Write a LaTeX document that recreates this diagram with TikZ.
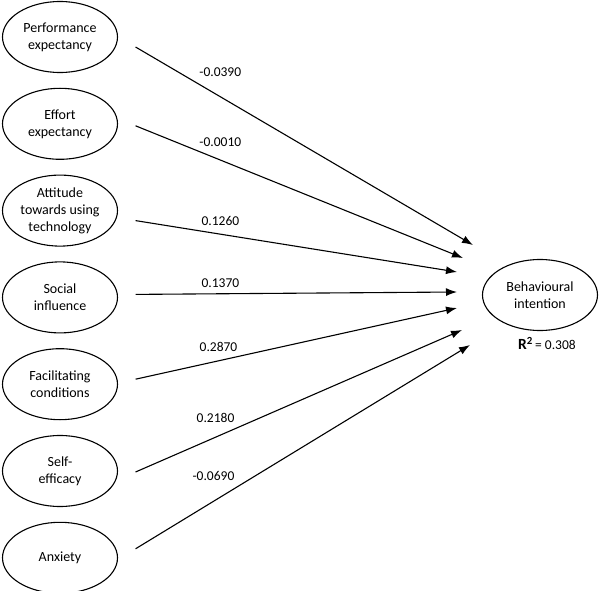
\documentclass[tikz,border=0pt]{standalone}
\usepackage{fontspec}
\setmainfont{Carlito}
\usetikzlibrary{shapes.geometric, arrows.meta, positioning}

\begin{document}
\begin{tikzpicture}[x=1pt, y=-1pt, node distance=14.7pt,
		construct/.style={ellipse, draw, line width=1.1pt, minimum width=115pt, minimum height=71pt, inner sep=0pt, align=center, font=\fontsize{14}{17}\selectfont},
		effect/.style={-{Latex[length=11pt,width=8pt]}, line width=1.1pt},
		coef/.style={font=\fontsize{13.5}{15}\selectfont}]
		\useasboundingbox (0,0) rectangle (600,591);
		\node[construct] (pe) at (60,37) {Performance\\expectancy};
		\node[construct, below=of pe] (ee) {Effort\\expectancy};
		\node[construct, below=of ee] (at) {Attitude\\towards using\\technology};
		\node[construct, below=of at] (si) {Social\\influence};
		\node[construct, below=of si] (fc) {Facilitating\\conditions};
		\node[construct, below=of fc] (se) {Self-\\efficacy};
		\node[construct, below=of se] (ax) {Anxiety};
		\node[construct] (bi) at (540,295) {Behavioural\\intention};
		\node[coef, below=3pt of bi, xshift=7pt] (r2) {\textbf{\fontsize{15.5}{15}\selectfont R\textsuperscript{2}}\,= 0.308};
		% free ends of the paths
		\foreach \n/\i/\dy in {pe/1/10, ee/2/2, at/3/10, si/4/-3, fc/5/-5, se/6/1, ax/7/-9}
			\coordinate (s\i) at ([shift={(17.5,\dy)}]\n.east);
		\coordinate (t1) at (473,245);
		\coordinate (t2) at (463,258);
		\coordinate (t3) at (457,272);
		\coordinate (t4) at (457,292);
		\coordinate (t5) at (457,308);
		\coordinate (t6) at (462,330);
		\coordinate (t7) at (470,345);
		\foreach \i/\val/\p/\r in {1/-0.0390/0.251/25, 2/-0.0010/0.259/17.5, 3/0.1260/0.264/13, 4/0.1370/0.264/11, 5/0.2870/0.258/14, 6/0.2180/0.245/19, 7/-0.0690/0.233/25}
			\draw[effect] (s\i) -- node[coef, pos=\p, yshift=\r pt] {\val} (t\i);
	\end{tikzpicture}
\end{document}
